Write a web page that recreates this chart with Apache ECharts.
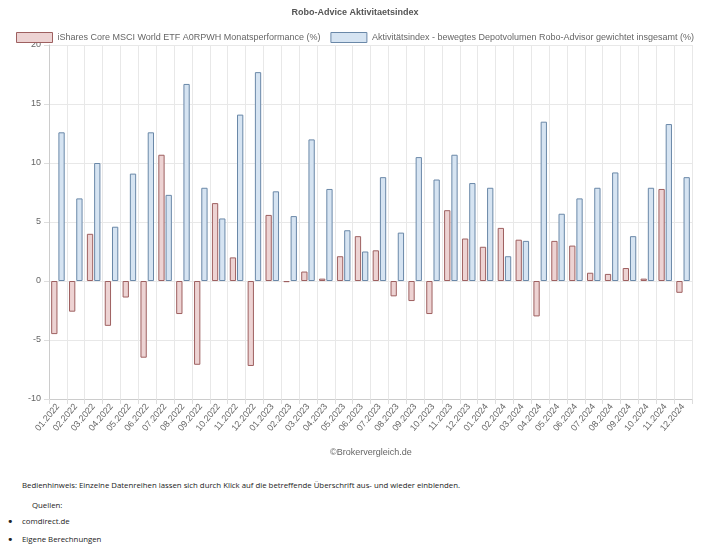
<!DOCTYPE html>
<html>
<head>
<meta charset="utf-8">
<script src="https://cdn.jsdelivr.net/npm/echarts@6/dist/echarts.min.js"></script>
<style>
  html, body { margin: 0; padding: 0; background: #fff; width: 710px; height: 552px; overflow: hidden; }
  #chart { position: absolute; left: 0; top: 0; width: 710px; height: 465px; }
  .note { position: absolute; font-family: "Open Sans", "Noto Sans", sans-serif; font-size: 7.8px; color: #222; white-space: nowrap; }
  .bullet { position: absolute; left: 7px; font-size: 11px; line-height: 11px; color: #222; font-family: "DejaVu Sans", sans-serif; }
</style>
</head>
<body>
<div id="chart"></div>
<div class="note" style="left:22px; top:480px;">Bedienhinweis: Einzelne Datenreihen lassen sich durch Klick auf die betreffende Überschrift aus- und wieder einblenden.</div>
<div class="note" style="left:32px; top:500px;">Quellen:</div>
<span class="bullet" style="top:516px;">•</span>
<div class="note" style="left:22px; top:516px;">comdirect.de</div>
<span class="bullet" style="top:534px;">•</span>
<div class="note" style="left:22px; top:534px;">Eigene Berechnungen</div>
<script>
const categories = ["01.2022","02.2022","03.2022","04.2022","05.2022","06.2022","07.2022","08.2022","09.2022","10.2022","11.2022","12.2022",
  "01.2023","02.2023","03.2023","04.2023","05.2023","06.2023","07.2023","08.2023","09.2023","10.2023","11.2023","12.2023",
  "01.2024","02.2024","03.2024","04.2024","05.2024","06.2024","07.2024","08.2024","09.2024","10.2024","11.2024","12.2024"];
const etfPerformance = [-4.5,-2.6,4.0,-3.8,-1.4,-6.5,10.7,-2.8,-7.1,6.6,2.0,-7.2,
  5.6,-0.1,0.8,0.2,2.1,3.8,2.6,-1.3,-1.7,-2.8,6.0,3.6,
  2.9,4.5,3.5,-3.0,3.4,3.0,0.7,0.6,1.1,0.2,7.8,-1.0];
const activityIndex = [12.6,7.0,10.0,4.6,9.1,12.6,7.3,16.7,7.9,5.3,14.1,17.7,
  7.6,5.5,12.0,7.8,4.3,2.5,8.8,4.1,10.5,8.6,10.7,8.3,
  7.9,2.1,3.4,13.5,5.7,7.0,7.9,9.2,3.8,7.9,13.3,8.8];
const seriesNames = ["iShares Core MSCI World ETF A0RPWH Monatsperformance (%)", "Aktivitätsindex - bewegtes Depotvolumen Robo-Advisor gewichtet insgesamt (%)"];

const chart = echarts.init(document.getElementById('chart'), null, {renderer: 'canvas'});
const font = '"Liberation Sans", Arial, sans-serif';
chart.setOption({
  animation: false,
  title: {
    text: 'Robo-Advice Aktivitaetsindex',
    left: 'center', top: 3,
    textStyle: { fontFamily: font, fontSize: 9, fontWeight: 'bold', color: '#555' }
  },
  legend: {
    top: 27, left: 11, width: 699,
    icon: 'rect',
    itemWidth: 36, itemHeight: 10, itemGap: 10,
    itemStyle: { borderWidth: 1 },
    textStyle: { fontFamily: font, fontSize: 9, color: '#666' },
    data: seriesNames
  },
  graphic: [{
    type: 'text', left: 330, top: 448,
    style: { text: '©Brokervergleich.de', font: '9px ' + font, fill: '#666' }
  }],
  grid: { left: 49, right: 18, top: 45, bottom: 66, containLabel: false },
  xAxis: {
    type: 'category', data: categories,
    axisLine: { onZero: false, lineStyle: { color: '#ccc' } },
    axisTick: { show: true, length: 5, lineStyle: { color: '#ddd' } },
    axisLabel: { rotate: 50, fontFamily: font, fontSize: 9, color: '#666', interval: 0, margin: 6 },
    splitLine: { show: true, lineStyle: { color: '#e8e8e8' } }
  },
  yAxis: {
    type: 'value', min: -10, max: 20, interval: 5,
    axisLine: { show: true, lineStyle: { color: '#ccc' } },
    axisTick: { show: true, length: 5, lineStyle: { color: '#ddd' } },
    axisLabel: { fontFamily: font, fontSize: 9, color: '#666', margin: 8 },
    splitLine: { lineStyle: { color: '#e8e8e8' } }
  },
  series: [
    { name: seriesNames[0], type: 'bar', data: etfPerformance, barWidth: 6.3, barGap: '15%',
      itemStyle: { color: '#edd3d3', borderColor: '#9e6060', borderWidth: 1 } },
    { name: seriesNames[1], type: 'bar', data: activityIndex, barWidth: 6.3,
      itemStyle: { color: '#d6e4f2', borderColor: '#6a88a8', borderWidth: 1 } }
  ]
});
</script>
</body>
</html>
